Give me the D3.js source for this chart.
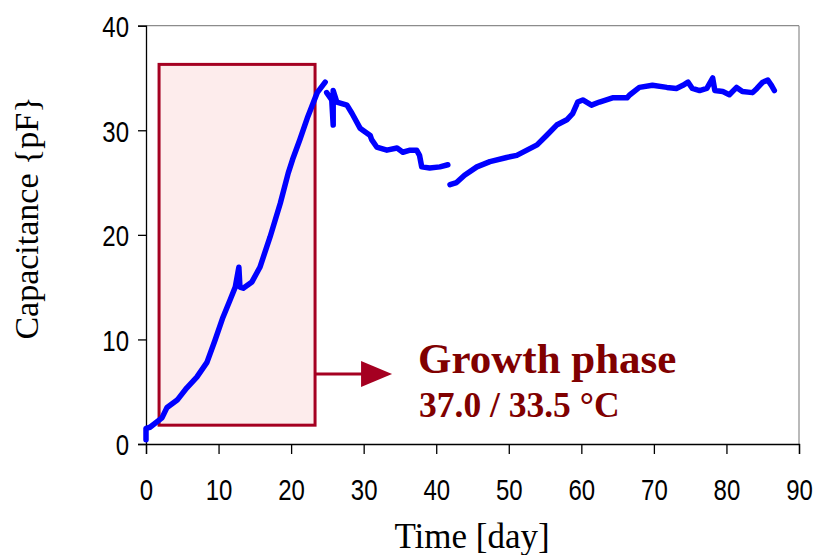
<!DOCTYPE html>
<html>
<head>
<meta charset="utf-8">
<script src="https://cdn.jsdelivr.net/npm/d3@7"></script>
<style>
  html, body { margin: 0; padding: 0; background: #ffffff; }
  svg { display: block; }
</style>
</head>
<body>
<svg id="chart" width="816" height="555"></svg>
<script>
// Capacitance record, split where the logger was interrupted.
const growthDays = [0, 0, 0.55, 2.2, 2.9, 4.3, 5.6, 7.0, 8.4, 9.5, 10.6, 11.6, 12.3, 12.8, 12.95, 13.4, 14.6, 15.7, 17.1, 18.5, 19.6, 20.2, 21.2, 22.3, 23.6, 24.7];
const growthCap  = [0.4, 1.5, 1.6, 2.5, 3.5, 4.2, 5.35, 6.4, 7.8, 9.9, 12.1, 13.8, 15.0, 16.9, 15.0, 14.9, 15.5, 16.9, 19.8, 23.0, 25.9, 27.2, 29.1, 31.3, 33.6, 34.6];

const declineDays = [24.9, 25.6, 25.8, 25.8, 26.3, 27.7, 28.4, 29.5, 30.9, 31.1, 31.8, 33.2, 34.6, 35.4, 36.4, 37.3, 37.7, 38.0, 39.1, 40.5, 41.6];
const declineCap  = [33.6, 32.9, 30.5, 33.8, 32.7, 32.4, 31.6, 30.2, 29.5, 29.1, 28.4, 28.1, 28.3, 27.9, 28.1, 28.1, 27.6, 26.5, 26.4, 26.5, 26.7];

const plateauDays = [41.9, 42.8, 43.9, 45.6, 47.4, 49.7, 51.1, 52.5, 53.9, 55.2, 56.6, 58.0, 58.8, 59.5, 60.2, 61.4, 62.5, 64.3, 66.3, 66.7, 68.0, 69.8, 71.8, 73.1, 74.0, 74.7, 75.3, 76.3, 77.3, 78.1, 78.4, 79.5, 80.4, 81.4, 82.2, 83.6, 84.2, 85.0, 85.7, 86.2, 86.6];
const plateauCap  = [24.8, 25.0, 25.7, 26.5, 27.0, 27.4, 27.6, 28.1, 28.6, 29.5, 30.5, 31.0, 31.6, 32.7, 32.9, 32.4, 32.7, 33.1, 33.1, 33.4, 34.1, 34.3, 34.1, 34.0, 34.3, 34.6, 34.0, 33.8, 34.0, 35.0, 33.8, 33.7, 33.4, 34.1, 33.7, 33.6, 34.0, 34.6, 34.8, 34.3, 33.8];

const xTicks = [0, 10, 20, 30, 40, 50, 60, 70, 80, 90];
const yTicks = [0, 10, 20, 30, 40];

const xTitle = "Time [day]";
const yTitle = "Capacitance {pF}";
const noteTitle = "Growth phase";
const noteSub = "37.0 / 33.5 °C";

// Growth-phase window (days, pF)
const phaseDays = [1.8, 23.3];
const phaseCap = [1.8, 36.3];

const svg = d3.select("#chart");
const plotLeft = 146, plotRight = 799, plotTop = 25.7, plotBottom = 444;

const x = d3.scaleLinear().domain([0, 90]).range([plotLeft, plotRight]);
const y = d3.scaleLinear().domain([0, 40]).range([plotBottom, plotTop]);

const tickFont = "'Liberation Sans', Arial, sans-serif";
const serif = "'Liberation Serif', 'Times New Roman', serif";

// Plot frame: grey top and right edges
svg.append("line").attr("x1", plotLeft).attr("x2", plotRight).attr("y1", plotTop).attr("y2", plotTop)
  .attr("stroke", "#8c8c8c").attr("stroke-width", 1.2);
svg.append("line").attr("x1", plotRight).attr("x2", plotRight).attr("y1", plotTop).attr("y2", plotBottom)
  .attr("stroke", "#8c8c8c").attr("stroke-width", 1.2);

// Growth-phase box
const boxColor = "#a50021";
svg.append("rect")
  .attr("x", x(phaseDays[0])).attr("y", y(phaseCap[1]))
  .attr("width", x(phaseDays[1]) - x(phaseDays[0]))
  .attr("height", y(phaseCap[0]) - y(phaseCap[1]))
  .attr("fill", "#fdecec").attr("stroke", boxColor).attr("stroke-width", 3);

// Arrow pointing to the annotation text
const arrowY = y(6.7);
const arrowX0 = x(phaseDays[1]);
svg.append("line").attr("x1", arrowX0).attr("x2", arrowX0 + 48)
  .attr("y1", arrowY).attr("y2", arrowY)
  .attr("stroke", boxColor).attr("stroke-width", 3);
svg.append("path")
  .attr("d", `M${arrowX0 + 46},${arrowY - 13} L${arrowX0 + 77},${arrowY} L${arrowX0 + 46},${arrowY + 13} Z`)
  .attr("fill", boxColor);

// Axes
const xAxis = d3.axisBottom(x).tickValues(xTicks).tickSize(10).tickPadding(25).tickFormat(d3.format("d"));
const yAxis = d3.axisLeft(y).tickValues(yTicks).tickSize(8).tickPadding(9).tickFormat(d3.format("d"));

const gx = svg.append("g").attr("transform", `translate(0,${plotBottom})`).call(xAxis);
const gy = svg.append("g").attr("transform", `translate(${plotLeft},0)`).call(yAxis);

[gx, gy].forEach(g => {
  g.select(".domain").attr("stroke", "#000").attr("stroke-width", 1.3);
  g.selectAll(".tick line").attr("stroke", "#000").attr("stroke-width", 1.3);
  g.selectAll(".tick text").attr("fill", "#000")
    .style("font-family", tickFont).style("font-size", "30px")
    .each(function () {
      // condensed digits
      const w = this.getComputedTextLength();
      d3.select(this).attr("textLength", w * 0.8).attr("lengthAdjust", "spacingAndGlyphs");
    });
});
gy.selectAll(".tick text").attr("dy", "0.36em");

// Capacitance trace
const line = d3.line().x(d => x(d[0])).y(d => y(d[1])).curve(d3.curveLinear);
const segments = [
  d3.zip(growthDays, growthCap),
  d3.zip(declineDays, declineCap),
  d3.zip(plateauDays, plateauCap)
];
svg.append("g").selectAll("path").data(segments).join("path")
  .attr("d", line)
  .attr("fill", "none").attr("stroke", "#0000ff").attr("stroke-width", 5.5)
  .attr("stroke-linejoin", "round").attr("stroke-linecap", "round");

// Axis titles
svg.append("text").attr("x", 472).attr("y", 548).attr("text-anchor", "middle")
  .style("font-family", serif).style("font-size", "35px").attr("fill", "#000")
  .text(xTitle);
svg.append("text").attr("transform", "translate(38,218) rotate(-90)").attr("text-anchor", "middle")
  .style("font-family", serif).style("font-size", "34px").attr("fill", "#000")
  .text(yTitle);

// Annotation text
svg.append("text").attr("x", 418).attr("y", 373)
  .style("font-family", serif).style("font-size", "43px").style("font-weight", "bold")
  .attr("fill", "#800000").text(noteTitle);
svg.append("text").attr("x", 419).attr("y", 417)
  .style("font-family", serif).style("font-size", "35.5px").style("font-weight", "bold")
  .attr("fill", "#800000").text(noteSub);
</script>
</body>
</html>
